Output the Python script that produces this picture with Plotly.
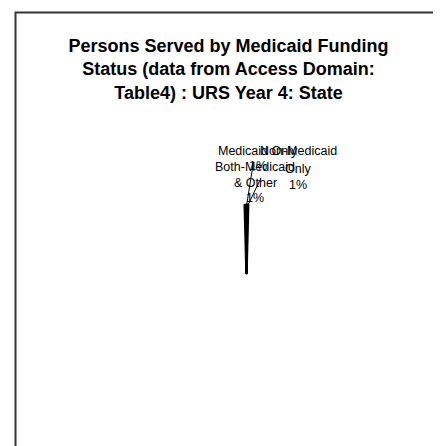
import plotly.graph_objects as go

# categorías y valores (fracción de personas atendidas)
categorias = ["Not Available", "Medicaid Only", "Non-Medicaid Only", "Both-Medicaid & Other"]
valores = [99.2, 0.3, 0.25, 0.25]
# texto de cada etiqueta, línea por línea
etiquetas = [["Medicaid Only", "1%"], ["Non-Medicaid", "Only", "1%"],
             ["Both-Medicaid", "& Other", "1%"]]

W, H = 441, 446
FONT = "Liberation Sans, Arial, sans-serif"
CX, CY, R = 238.5, 265, 68


def px(x, y):
    # píxeles -> coordenadas de papel (márgenes 0)
    return x / W, 1 - y / H


# la porción grande va primero para que las pequeñas se dibujen encima
fig = go.Figure(go.Pie(
    labels=categorias, values=valores, sort=False, direction="clockwise",
    rotation=1.4, textinfo="none", showlegend=False, hoverinfo="label+percent",
    marker=dict(colors=["white", "black", "black", "black"],
                line=dict(color="black", width=[0, 2.5, 2.5, 2.5])),
    domain=dict(x=[(CX - R) / W, (CX + R) / W],
                y=[(H - CY - R) / H, (H - CY + R) / H]),
))

# etiquetas de porciones: centro x y filas y (píxeles)
pos = [(250, [143, 158]), (290, [143, 161, 177]), (247, [159, 174.5, 190])]
for lineas, (x, filas) in zip(etiquetas, pos):
    for txt, y in zip(lineas, filas):
        xp, yp = px(x, y)
        fig.add_annotation(x=xp, y=yp, xref="paper", yref="paper", text=txt,
                           showarrow=False, xanchor="center", yanchor="middle",
                           font=dict(family=FONT, size=12.5, color="black"))

# líneas guía
for (x0, y0), (x1, y1) in [((238.5, 198), (245, 157)), ((239.5, 198), (252, 172))]:
    a, b = px(x0, y0)
    c, d = px(x1, y1)
    fig.add_shape(type="line", xref="paper", yref="paper", x0=a, y0=b, x1=c, y1=d,
                  line=dict(color="black", width=1))

# marco
a, b = px(7.5, 4.5)
fig.add_shape(type="rect", xref="paper", yref="paper", x0=a, y0=-0.05, x1=1.05, y1=b,
              line=dict(color="#333333", width=2), fillcolor="rgba(0,0,0,0)")

fig.update_layout(
    width=W, height=H, margin=dict(l=0, r=0, t=0, b=0),
    paper_bgcolor="white", plot_bgcolor="white",
    title=dict(text="<b>Persons Served by Medicaid Funding<br>Status (data from Access Domain:"
                    "<br>Table4) : URS Year 4: State</b>",
               x=0.5, xanchor="center", y=1 - 44 / H, yanchor="top",
               font=dict(family=FONT, size=18, color="black")),
)
fig.write_html("out.html")
